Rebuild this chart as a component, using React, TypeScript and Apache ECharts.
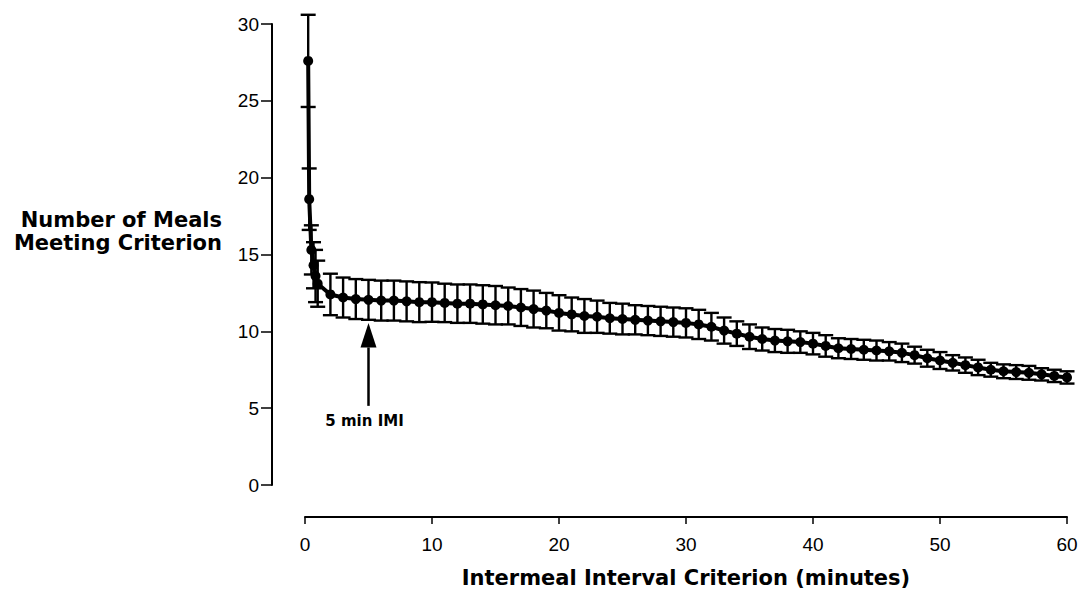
import React, { useEffect, useRef } from "react";
import * as echarts from "echarts";

// Intermeal interval criterion (minutes)
const minutes: number[] = [
  0.25, 0.33, 0.5, 0.67, 0.83, 1,
  2, 3, 4, 5, 6, 7, 8, 9, 10,
  11, 12, 13, 14, 15, 16, 17, 18, 19, 20,
  21, 22, 23, 24, 25, 26, 27, 28, 29, 30,
  31, 32, 33, 34, 35, 36, 37, 38, 39, 40,
  41, 42, 43, 44, 45, 46, 47, 48, 49, 50,
  51, 52, 53, 54, 55, 56, 57, 58, 59, 60,
];

// Mean number of meals meeting criterion
const meanMeals: number[] = [
  27.6, 18.6, 15.3, 14.3, 13.6, 13.1,
  12.4, 12.2, 12.1, 12.05, 12.0, 12.0, 11.95, 11.9, 11.9,
  11.85, 11.8, 11.8, 11.75, 11.7, 11.65, 11.55, 11.45, 11.35, 11.2,
  11.1, 11.0, 10.95, 10.85, 10.8, 10.75, 10.7, 10.65, 10.6, 10.55,
  10.45, 10.3, 10.05, 9.85, 9.65, 9.5, 9.4, 9.35, 9.3, 9.2,
  9.05, 8.9, 8.85, 8.8, 8.75, 8.7, 8.6, 8.45, 8.25, 8.1,
  7.95, 7.8, 7.65, 7.5, 7.4, 7.35, 7.3, 7.2, 7.1, 7.0,
];

// Standard error of the mean
const semMeals: number[] = [
  3.0, 2.0, 1.6, 1.5, 1.7, 1.5,
  1.35, 1.3, 1.3, 1.3, 1.3, 1.3, 1.3, 1.3, 1.28,
  1.25, 1.25, 1.25, 1.25, 1.25, 1.2, 1.2, 1.2, 1.15, 1.15,
  1.1, 1.1, 1.05, 1.0, 1.0, 0.95, 0.95, 0.95, 0.95, 0.95,
  0.95, 0.9, 0.85, 0.8, 0.8, 0.75, 0.75, 0.75, 0.7, 0.7,
  0.7, 0.65, 0.65, 0.65, 0.65, 0.6, 0.6, 0.55, 0.55, 0.55,
  0.5, 0.5, 0.5, 0.45, 0.45, 0.45, 0.45, 0.4, 0.4, 0.4,
];

const yTitleLines: string[] = ["Number of Meals", "Meeting Criterion"];
const xTitle = "Intermeal Interval Criterion (minutes)";
const annotationText = "5 min IMI";
const annotationMinute = 5;

export default function App() {
  const ref = useRef<HTMLDivElement>(null);

  useEffect(() => {
    if (!ref.current) return;
    const chart = echarts.init(ref.current, null, { renderer: "svg" });

    const boldFont = "DejaVu Sans";
    const tickFont = "Liberation Sans";

    chart.setOption({
      animation: false,
      backgroundColor: "#ffffff",
      grid: { left: 305, right: 15, top: 24, bottom: 110 },
      xAxis: {
        type: "value",
        min: 0,
        max: 60,
        interval: 10,
        offset: 32,
        axisLine: { show: true, onZero: false, lineStyle: { color: "#000", width: 2 } },
        axisTick: { show: true, length: 7, lineStyle: { color: "#000", width: 1.5 } },
        axisLabel: { color: "#000", fontSize: 19, fontFamily: tickFont, margin: 18 },
        splitLine: { show: false },
      },
      yAxis: {
        type: "value",
        min: 0,
        max: 30,
        interval: 5,
        offset: 33,
        axisLine: { show: true, onZero: false, lineStyle: { color: "#000", width: 2 } },
        axisTick: { show: true, length: 11, lineStyle: { color: "#000", width: 1.5 } },
        axisLabel: { color: "#000", fontSize: 19, fontFamily: tickFont, margin: 13 },
        splitLine: { show: false },
      },
      series: [
        {
          type: "custom",
          z: 2,
          data: minutes.map((m, i) => [m, meanMeals[i] - semMeals[i], meanMeals[i] + semMeals[i]]),
          encode: { x: 0, y: [1, 2] },
          renderItem: (params: any, api: any) => {
            const x = api.value(0);
            const lo = api.coord([x, api.value(1)]);
            const hi = api.coord([x, api.value(2)]);
            const hw = 7.5;
            const style = { stroke: "#000", lineWidth: 2.4, fill: null };
            return {
              type: "group",
              children: [
                { type: "line", shape: { x1: lo[0], y1: lo[1], x2: hi[0], y2: hi[1] }, style },
                { type: "line", shape: { x1: hi[0] - hw, y1: hi[1], x2: hi[0] + hw, y2: hi[1] }, style },
                { type: "line", shape: { x1: lo[0] - hw, y1: lo[1], x2: lo[0] + hw, y2: lo[1] }, style },
              ],
            };
          },
        },
        {
          type: "line",
          z: 3,
          data: minutes.map((m, i) => [m, meanMeals[i]]),
          symbol: "circle",
          symbolSize: 10,
          showSymbol: true,
          lineStyle: { color: "#000", width: 4 },
          itemStyle: { color: "#000" },
        },
      ],
    });

    const ax = chart.convertToPixel({ xAxisIndex: 0 }, annotationMinute) as number;
    const tipY = chart.convertToPixel({ yAxisIndex: 0 }, 10.55) as number;
    const baseY = chart.convertToPixel({ yAxisIndex: 0 }, 8.95) as number;
    const endY = chart.convertToPixel({ yAxisIndex: 0 }, 5.15) as number;
    const textY = chart.convertToPixel({ yAxisIndex: 0 }, 4.15) as number;

    chart.setOption({
      graphic: [
        {
          type: "text",
          x: 222,
          y: 220,
          style: {
            text: yTitleLines[0],
            fontFamily: boldFont,
            fontWeight: "bold",
            fontSize: 21,
            fill: "#000",
            align: "right",
            verticalAlign: "middle",
          },
        },
        {
          type: "text",
          x: 222,
          y: 243,
          style: {
            text: yTitleLines[1],
            fontFamily: boldFont,
            fontWeight: "bold",
            fontSize: 21,
            fill: "#000",
            align: "right",
            verticalAlign: "middle",
          },
        },
        {
          type: "text",
          x: 686,
          y: 578,
          style: {
            text: xTitle,
            fontFamily: boldFont,
            fontWeight: "bold",
            fontSize: 21,
            fill: "#000",
            align: "center",
            verticalAlign: "middle",
          },
        },
        {
          type: "line",
          shape: { x1: ax, y1: baseY, x2: ax, y2: endY },
          style: { stroke: "#000", lineWidth: 2.5 },
        },
        {
          type: "polygon",
          shape: { points: [[ax, tipY], [ax - 8, baseY], [ax + 8, baseY]] },
          style: { fill: "#000" },
        },
        {
          type: "text",
          x: ax - 4,
          y: textY,
          style: {
            text: annotationText,
            fontFamily: boldFont,
            fontWeight: "bold",
            fontSize: 15,
            fill: "#000",
            align: "center",
            verticalAlign: "middle",
          },
        },
      ],
    });

    return () => chart.dispose();
  }, []);

  return (
    <div
      ref={ref}
      style={{ position: "fixed", left: 0, top: 0, width: 1082, height: 595, background: "#fff" }}
    />
  );
}
